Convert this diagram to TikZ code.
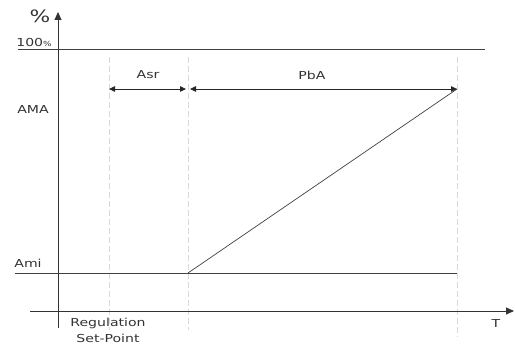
\documentclass[tikz,border=0pt]{standalone}
\usepackage{fontspec}
\setmainfont{DejaVu Sans}[FakeStretch=1.28]
\usetikzlibrary{arrows.meta}
\begin{document}
\begin{tikzpicture}[x=1pt,y=-1pt,
  axis/.style={draw=black!80, line width=0.9pt},
  plotline/.style={draw=black!75, line width=0.9pt},
  guide/.style={draw=black!15, line width=0.6pt, dash pattern=on 6pt off 3pt},
  dim/.style={draw=black!85, line width=0.8pt, {Triangle[length=6pt,width=5.5pt]}-{Triangle[length=6pt,width=5.5pt]}},
  lbl/.style={font=\fontsize{11}{13}\selectfont, text=black!80, inner sep=1pt}]
\useasboundingbox (0,0) rectangle (515,345);
% coordinates
\coordinate (yb) at (58,328);
\coordinate (yt) at (58,12);
\coordinate (xl) at (30,311);
\coordinate (xr) at (514,311);
\coordinate (hl) at (18,49);
\coordinate (hr) at (485,49);
\coordinate (al) at (15,273);
\coordinate (ar) at (188,273);
\coordinate (pe) at (457,89);
\coordinate (ae) at (457,273);
% guides
\draw[guide] (109,57) -- (109,330);
\draw[guide] (188,57) -- (188,330);
\draw[guide] (457,57) -- (457,337);
% axes
\draw[axis,-{Triangle[length=8pt,width=7pt]}] (yb) -- (yt);
\draw[axis,-{Triangle[length=8pt,width=7pt]}] (xl) -- (xr);
% lines
\draw[plotline] (hl) -- (hr);
\draw[plotline] (al) -- (ae);
\draw[plotline, line width=0.7pt] (ar) -- (pe);
% dimension arrows
\coordinate (d1) at (109,89);
\coordinate (d2) at (186,89);
\coordinate (d3) at (190,89);
\coordinate (d4) at (457,89);
\draw[dim] (d1) -- (d2);
\draw[dim] (d3) -- (d4);
% labels
\node[lbl, font=\fontsize{17}{18}\selectfont] (pct) at (40,16) {\%};
\node[lbl] (hund) at (34,42) {100{\fontsize{7}{8}\selectfont\%}};
\node[lbl] (ama) at (33,109) {AMA};
\node[lbl] (ami) at (28,263) {Ami};
\node[lbl] (asr) at (148,75) {Asr};
\node[lbl] (pba) at (312,75) {PbA};
\node[lbl] (t) at (496,323) {T};
\node[lbl, align=center, font=\fontsize{11}{16}\selectfont] (rsp) at (108,330) {Regulation\\Set-Point};
\end{tikzpicture}
\end{document}
